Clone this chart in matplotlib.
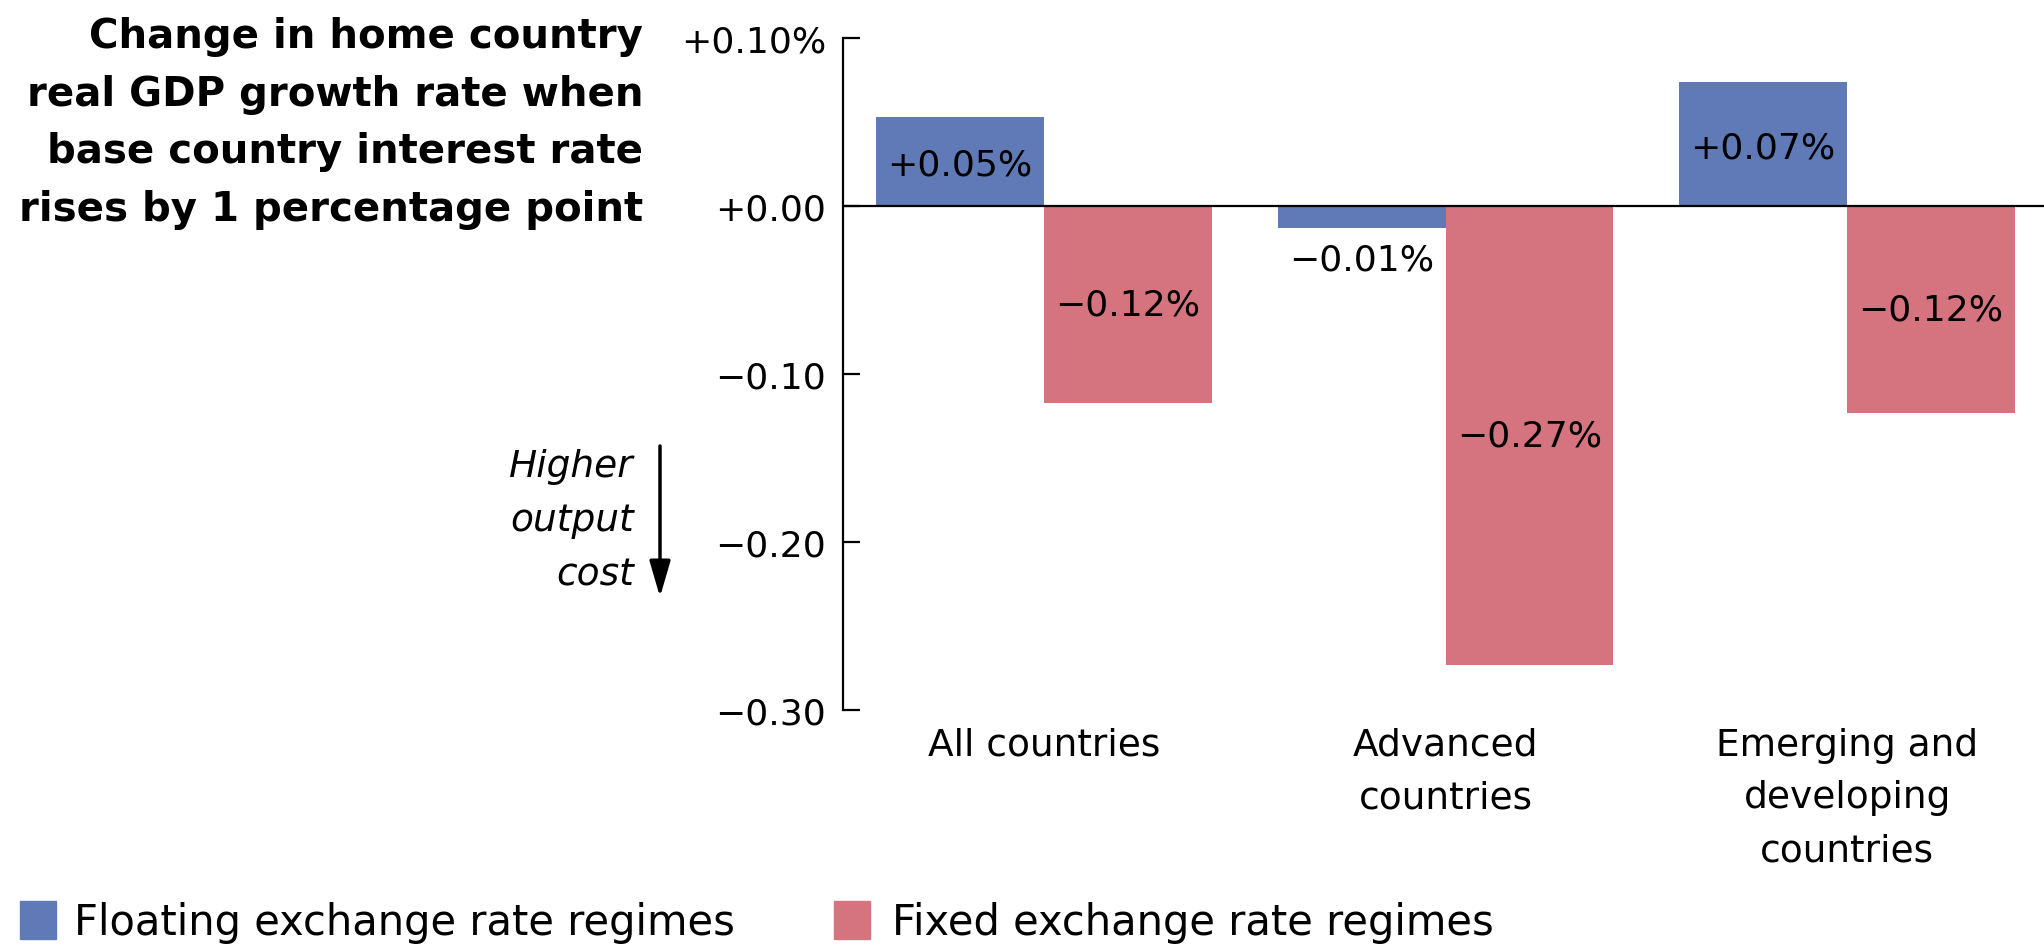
import matplotlib
matplotlib.use("Agg")
import matplotlib.pyplot as plt
import numpy as np

# data
categories = ["All countries", "Advanced\ncountries", "Emerging and\ndeveloping\ncountries"]
floating = [0.053, -0.013, 0.074]
fixed = [-0.117, -0.273, -0.123]
yticks = [0.10, 0.00, -0.10, -0.20, -0.30]
ytick_labels = ["+0.10%", "+0.00", "\u22120.10", "\u22120.20", "\u22120.30"]

blue = "#5f7ab6"
red = "#d5737f"

W, H = 2044, 945
fig = plt.figure(figsize=(W / 100, H / 100), dpi=100)
ax = fig.add_axes([843 / W, 1 - 711 / H, 1 - 843 / W, (711 - 39) / H])

x = np.arange(len(categories))
w = 0.418
ax.bar(x - w / 2, floating, w, color=blue, zorder=2)
ax.bar(x + w / 2, fixed, w, color=red, zorder=2)
ax.axhline(0, color="black", lw=1.6, zorder=3)


def fmt(v):
    s = f"{abs(v):.2f}%"
    return ("+" if v >= 0 else "\u2212") + s


fs = 26
for i in range(len(categories)):
    v = floating[i]
    if v >= 0:
        ax.text(x[i] - w / 2, v / 2 - 0.002, fmt(v), ha="center", va="center", fontsize=fs)
    else:
        ax.text(x[i] - w / 2, v - 0.019, fmt(v), ha="center", va="center", fontsize=fs)
    v = fixed[i]
    ax.text(x[i] + w / 2, v / 2, fmt(v), ha="center", va="center", fontsize=fs)

ax.set_xlim(-0.5, 2.49)
ax.set_ylim(-0.30, 0.10)
ax.set_yticks(yticks)
ax.set_yticklabels(ytick_labels, fontsize=fs)
ax.tick_params(axis="y", direction="in", length=12, width=1.6, pad=12)
ax.set_xticks(x)
ax.set_xticklabels(categories, fontsize=27, linespacing=1.6)
ax.tick_params(axis="x", length=0, pad=12)
for s in ["top", "right", "bottom"]:
    ax.spines[s].set_visible(False)
ax.spines["left"].set_linewidth(1.6)

fig.text(643 / W, 1 - 17 / H,
         "Change in home country\nreal GDP growth rate when\nbase country interest rate\nrises by 1 percentage point",
         ha="right", va="top", fontsize=29, fontweight="bold", linespacing=1.57)

fig.text(634 / W, 1 - 521 / H, "Higher\noutput\ncost", ha="right", va="center",
         fontsize=27, style="italic", linespacing=1.65)
fig.patches.append(matplotlib.patches.FancyArrowPatch(
    (660 / W, 1 - 447 / H), (660 / W, 1 - 598 / H), transform=fig.transFigure,
    arrowstyle="-|>,head_length=1.1,head_width=0.32", mutation_scale=20,
    shrinkA=0, shrinkB=0, color="black", lw=2.5))

# legend
fig.patches.append(matplotlib.patches.Rectangle((20 / W, 1 - 940 / H), 36 / W, 38 / H,
                                                transform=fig.transFigure, color=blue))
fig.text(74 / W, 1 - 923 / H, "Floating exchange rate regimes", ha="left", va="center", fontsize=30)
fig.patches.append(matplotlib.patches.Rectangle((834 / W, 1 - 940 / H), 36 / W, 38 / H,
                                                transform=fig.transFigure, color=red))
fig.text(892 / W, 1 - 923 / H, "Fixed exchange rate regimes", ha="left", va="center", fontsize=30)

fig.savefig("out.png", dpi=100)
